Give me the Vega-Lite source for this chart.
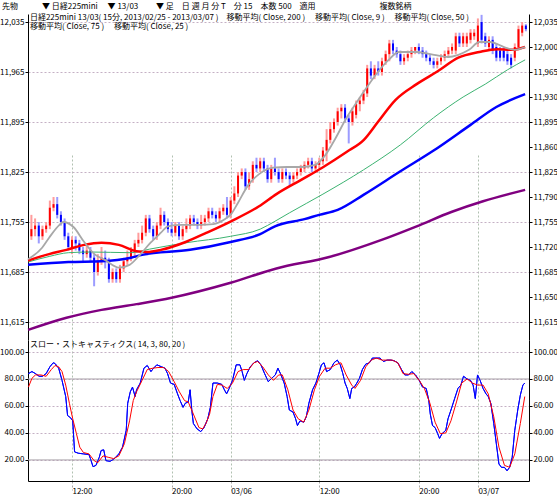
{
  "$schema": "https://vega.github.io/schema/vega-lite/v6.json",
  "width": 501,
  "height": 467,
  "autosize": {"type": "none"},
  "padding": {"left": 28, "top": 14, "right": 28, "bottom": 17},
  "background": "#ffffff",
  "title": {
    "text": "先物　　　▼ 日経225mini　 ▼ 13/03　　 ▼ 足　日 週 月 分 T　分 15　本数 500　適用　　　　　　　　複数銘柄",
    "anchor": "start", "frame": "group", "dx": -26, "offset": 3,
    "fontSize": 8, "fontWeight": "normal", "font": "Noto Sans CJK JP", "color": "#000000"
  },
  "config": {
    "view": {"stroke": null},
    "font": "Noto Sans CJK JP",
    "axis": {"labelFont": "Noto Sans CJK JP", "labelFontSize": 8, "labelColor": "#000000", "domainColor": "#000000", "tickColor": "#000000", "title": null}
  },
  "datasets": {
    "candles": [
      {"j":0,"o":11735,"h":11765,"l":11730,"c":11745},
      {"j":1,"o":11745,"h":11760,"l":11735,"c":11750},
      {"j":2,"o":11750,"h":11755,"l":11725,"c":11735},
      {"j":3,"o":11735,"h":11750,"l":11730,"c":11745},
      {"j":4,"o":11745,"h":11755,"l":11740,"c":11750},
      {"j":5,"o":11750,"h":11785,"l":11745,"c":11775},
      {"j":6,"o":11775,"h":11790,"l":11770,"c":11780},
      {"j":7,"o":11780,"h":11790,"l":11760,"c":11765},
      {"j":8,"o":11765,"h":11770,"l":11750,"c":11755},
      {"j":9,"o":11755,"h":11760,"l":11730,"c":11735},
      {"j":10,"o":11735,"h":11740,"l":11715,"c":11720},
      {"j":11,"o":11720,"h":11735,"l":11710,"c":11730},
      {"j":12,"o":11730,"h":11735,"l":11715,"c":11725},
      {"j":13,"o":11725,"h":11730,"l":11710,"c":11715},
      {"j":14,"o":11715,"h":11720,"l":11700,"c":11710},
      {"j":15,"o":11710,"h":11725,"l":11705,"c":11715},
      {"j":16,"o":11715,"h":11720,"l":11700,"c":11705},
      {"j":17,"o":11705,"h":11710,"l":11665,"c":11685},
      {"j":18,"o":11685,"h":11710,"l":11680,"c":11700},
      {"j":19,"o":11700,"h":11720,"l":11695,"c":11705},
      {"j":20,"o":11705,"h":11715,"l":11690,"c":11700},
      {"j":21,"o":11700,"h":11705,"l":11670,"c":11675},
      {"j":22,"o":11675,"h":11690,"l":11670,"c":11685},
      {"j":23,"o":11685,"h":11690,"l":11670,"c":11675},
      {"j":24,"o":11675,"h":11695,"l":11670,"c":11690},
      {"j":25,"o":11690,"h":11705,"l":11685,"c":11700},
      {"j":26,"o":11700,"h":11715,"l":11695,"c":11705},
      {"j":27,"o":11705,"h":11720,"l":11700,"c":11715},
      {"j":28,"o":11715,"h":11730,"l":11705,"c":11725},
      {"j":29,"o":11725,"h":11740,"l":11720,"c":11730},
      {"j":30,"o":11730,"h":11750,"l":11725,"c":11740},
      {"j":31,"o":11740,"h":11765,"l":11735,"c":11760},
      {"j":32,"o":11760,"h":11765,"l":11740,"c":11745},
      {"j":33,"o":11745,"h":11750,"l":11730,"c":11735},
      {"j":34,"o":11735,"h":11755,"l":11730,"c":11750},
      {"j":35,"o":11750,"h":11775,"l":11745,"c":11765},
      {"j":36,"o":11765,"h":11770,"l":11750,"c":11755},
      {"j":37,"o":11755,"h":11760,"l":11740,"c":11745},
      {"j":38,"o":11745,"h":11755,"l":11735,"c":11740},
      {"j":39,"o":11740,"h":11755,"l":11735,"c":11750},
      {"j":40,"o":11750,"h":11755,"l":11730,"c":11735},
      {"j":41,"o":11735,"h":11750,"l":11730,"c":11745},
      {"j":42,"o":11745,"h":11760,"l":11740,"c":11750},
      {"j":43,"o":11750,"h":11765,"l":11745,"c":11760},
      {"j":44,"o":11760,"h":11765,"l":11750,"c":11755},
      {"j":45,"o":11755,"h":11760,"l":11745,"c":11750},
      {"j":46,"o":11750,"h":11765,"l":11745,"c":11755},
      {"j":47,"o":11755,"h":11765,"l":11750,"c":11760},
      {"j":48,"o":11760,"h":11775,"l":11755,"c":11770},
      {"j":49,"o":11770,"h":11775,"l":11760,"c":11765},
      {"j":50,"o":11765,"h":11770,"l":11755,"c":11760},
      {"j":51,"o":11760,"h":11775,"l":11755,"c":11770},
      {"j":52,"o":11770,"h":11780,"l":11765,"c":11775},
      {"j":53,"o":11775,"h":11790,"l":11760,"c":11765},
      {"j":54,"o":11765,"h":11790,"l":11760,"c":11785},
      {"j":55,"o":11785,"h":11805,"l":11780,"c":11795},
      {"j":56,"o":11795,"h":11825,"l":11790,"c":11820},
      {"j":57,"o":11820,"h":11830,"l":11815,"c":11825},
      {"j":58,"o":11825,"h":11830,"l":11800,"c":11805},
      {"j":59,"o":11805,"h":11825,"l":11800,"c":11815},
      {"j":60,"o":11815,"h":11840,"l":11810,"c":11835},
      {"j":61,"o":11835,"h":11845,"l":11825,"c":11830},
      {"j":62,"o":11830,"h":11845,"l":11825,"c":11840},
      {"j":63,"o":11840,"h":11845,"l":11825,"c":11830},
      {"j":64,"o":11830,"h":11835,"l":11810,"c":11815},
      {"j":65,"o":11815,"h":11835,"l":11810,"c":11830},
      {"j":66,"o":11830,"h":11845,"l":11820,"c":11825},
      {"j":67,"o":11825,"h":11830,"l":11810,"c":11815},
      {"j":68,"o":11815,"h":11830,"l":11810,"c":11825},
      {"j":69,"o":11825,"h":11830,"l":11815,"c":11820},
      {"j":70,"o":11820,"h":11825,"l":11805,"c":11815},
      {"j":71,"o":11815,"h":11825,"l":11810,"c":11820},
      {"j":72,"o":11820,"h":11830,"l":11815,"c":11825},
      {"j":73,"o":11825,"h":11835,"l":11820,"c":11830},
      {"j":74,"o":11830,"h":11840,"l":11825,"c":11835},
      {"j":75,"o":11835,"h":11845,"l":11830,"c":11840},
      {"j":76,"o":11840,"h":11845,"l":11825,"c":11830},
      {"j":77,"o":11830,"h":11840,"l":11825,"c":11835},
      {"j":78,"o":11835,"h":11845,"l":11830,"c":11840},
      {"j":79,"o":11840,"h":11860,"l":11835,"c":11855},
      {"j":80,"o":11855,"h":11885,"l":11840,"c":11870},
      {"j":81,"o":11870,"h":11895,"l":11865,"c":11885},
      {"j":82,"o":11885,"h":11900,"l":11880,"c":11895},
      {"j":83,"o":11895,"h":11915,"l":11890,"c":11910},
      {"j":84,"o":11910,"h":11920,"l":11900,"c":11915},
      {"j":85,"o":11915,"h":11920,"l":11895,"c":11900},
      {"j":86,"o":11900,"h":11905,"l":11865,"c":11895},
      {"j":87,"o":11895,"h":11915,"l":11890,"c":11910},
      {"j":88,"o":11905,"h":11925,"l":11900,"c":11920},
      {"j":89,"o":11920,"h":11930,"l":11910,"c":11925},
      {"j":90,"o":11925,"h":11940,"l":11920,"c":11935},
      {"j":91,"o":11935,"h":11975,"l":11930,"c":11970},
      {"j":92,"o":11970,"h":11980,"l":11955,"c":11960},
      {"j":93,"o":11960,"h":11975,"l":11955,"c":11970},
      {"j":94,"o":11970,"h":11980,"l":11960,"c":11965},
      {"j":95,"o":11965,"h":11985,"l":11960,"c":11980},
      {"j":96,"o":11980,"h":11995,"l":11975,"c":11990},
      {"j":97,"o":11990,"h":12010,"l":11980,"c":12005},
      {"j":98,"o":12005,"h":12010,"l":11990,"c":11995},
      {"j":99,"o":11995,"h":12000,"l":11985,"c":11990},
      {"j":100,"o":11990,"h":11995,"l":11975,"c":11980},
      {"j":101,"o":11980,"h":11990,"l":11975,"c":11985},
      {"j":102,"o":11985,"h":11995,"l":11980,"c":11990},
      {"j":103,"o":11990,"h":12000,"l":11985,"c":11995},
      {"j":104,"o":11995,"h":12000,"l":11990,"c":12000},
      {"j":105,"o":12000,"h":12005,"l":11990,"c":11995},
      {"j":106,"o":11995,"h":12000,"l":11985,"c":11990},
      {"j":107,"o":11990,"h":11995,"l":11980,"c":11985},
      {"j":108,"o":11985,"h":11990,"l":11975,"c":11980},
      {"j":109,"o":11980,"h":11985,"l":11970,"c":11975},
      {"j":110,"o":11975,"h":11985,"l":11970,"c":11980},
      {"j":111,"o":11980,"h":11990,"l":11975,"c":11985},
      {"j":112,"o":11985,"h":11995,"l":11980,"c":11990},
      {"j":113,"o":11990,"h":12000,"l":11985,"c":11995},
      {"j":114,"o":11995,"h":12005,"l":11990,"c":12000},
      {"j":115,"o":11995,"h":12020,"l":11990,"c":12015},
      {"j":116,"o":12015,"h":12020,"l":12000,"c":12005},
      {"j":117,"o":12005,"h":12020,"l":12000,"c":12015},
      {"j":118,"o":12005,"h":12020,"l":12000,"c":12015},
      {"j":119,"o":12010,"h":12025,"l":12005,"c":12020},
      {"j":120,"o":12015,"h":12025,"l":12010,"c":12020},
      {"j":121,"o":12005,"h":12040,"l":12000,"c":12030},
      {"j":122,"o":12035,"h":12045,"l":12005,"c":12010},
      {"j":123,"o":12015,"h":12020,"l":12000,"c":12005},
      {"j":124,"o":12000,"h":12015,"l":11995,"c":12010},
      {"j":125,"o":12010,"h":12015,"l":11990,"c":11995},
      {"j":126,"o":12000,"h":12005,"l":11980,"c":11985},
      {"j":127,"o":11995,"h":12000,"l":11980,"c":11985},
      {"j":128,"o":11995,"h":12000,"l":11980,"c":11985},
      {"j":129,"o":11990,"h":11995,"l":11975,"c":11980},
      {"j":130,"o":11985,"h":11990,"l":11970,"c":11975},
      {"j":131,"o":11985,"h":12005,"l":11980,"c":12000},
      {"j":132,"o":12000,"h":12030,"l":11995,"c":12025},
      {"j":133,"o":12020,"h":12035,"l":12015,"c":12030},
      {"j":134,"o":12030,"h":12032,"l":12022,"c":12025}
    ],
    "ma200": [
      {"j":-0.9,"v":11604},{"j":9.5,"v":11621},{"j":19,"v":11632},{"j":28.5,"v":11640},{"j":38,"v":11649},
      {"j":54,"v":11670},{"j":66.4,"v":11690},{"j":80.7,"v":11706},{"j":94.9,"v":11730},{"j":104.4,"v":11749},
      {"j":113.8,"v":11769},{"j":122.4,"v":11784},{"j":133.8,"v":11800}
    ],
    "ma75": [
      {"j":-0.9,"v":11695},{"j":10,"v":11699},{"j":19,"v":11700},{"j":27,"v":11705},{"j":30,"v":11709},
      {"j":43,"v":11716},{"j":54,"v":11727},{"j":62,"v":11738},{"j":66,"v":11749},{"j":74,"v":11759},
      {"j":78,"v":11765},{"j":83,"v":11772},{"j":90,"v":11793},{"j":100,"v":11826},{"j":109,"v":11855},
      {"j":119,"v":11891},{"j":126,"v":11916},{"j":133.8,"v":11934}
    ],
    "ma50": [
      {"j":-0.9,"v":11699},{"j":5,"v":11707},{"j":10,"v":11712},{"j":16,"v":11713},{"j":27,"v":11712},
      {"j":32,"v":11717},{"j":42,"v":11726},{"j":54,"v":11735},{"j":62,"v":11745},{"j":66,"v":11756},
      {"j":70,"v":11768},{"j":79,"v":11794},{"j":90,"v":11828},{"j":100,"v":11863},{"j":109,"v":11901},
      {"j":117,"v":11930},{"j":123,"v":11948},{"j":129,"v":11968},{"j":133.8,"v":11982}
    ],
    "ma25": [
      {"j":-0.9,"v":11701},{"j":4.8,"v":11710},{"j":9.5,"v":11716},{"j":14.3,"v":11723},{"j":19,"v":11726},
      {"j":23.7,"v":11723},{"j":28.5,"v":11714},{"j":31.3,"v":11713},{"j":35.1,"v":11716},{"j":41.8,"v":11727},
      {"j":47.5,"v":11740},{"j":54.1,"v":11756},{"j":61.7,"v":11777},{"j":66.4,"v":11794},{"j":73.1,"v":11814},
      {"j":78.8,"v":11831},{"j":85.4,"v":11853},{"j":90.1,"v":11870},{"j":93.9,"v":11895},{"j":98.7,"v":11926},
      {"j":104.4,"v":11948},{"j":110.1,"v":11966},{"j":115.7,"v":11985},{"j":121.4,"v":11993},{"j":126.2,"v":11997},
      {"j":130,"v":11996},{"j":133.8,"v":12000}
    ],
    "ma9": [
      {"j":-0.9,"v":11703},{"j":2.9,"v":11719},{"j":4.8,"v":11733},{"j":7.6,"v":11751},{"j":8.6,"v":11755},
      {"j":11.4,"v":11748},{"j":14.3,"v":11727},{"j":17.1,"v":11710},{"j":19.9,"v":11702},{"j":23.7,"v":11691},
      {"j":26.6,"v":11695},{"j":29.4,"v":11709},{"j":32.3,"v":11726},{"j":35.1,"v":11740},{"j":37,"v":11749},
      {"j":40.8,"v":11751},{"j":45.6,"v":11751},{"j":49.3,"v":11752},{"j":52.2,"v":11758},{"j":54.1,"v":11766},
      {"j":56,"v":11782},{"j":58.8,"v":11807},{"j":61.7,"v":11822},{"j":65.5,"v":11831},{"j":69.3,"v":11832},
      {"j":73.1,"v":11832},{"j":76.9,"v":11835},{"j":79.7,"v":11849},{"j":82.5,"v":11873},{"j":85.4,"v":11901},
      {"j":88.2,"v":11923},{"j":91.1,"v":11945},{"j":93.9,"v":11965},{"j":96.8,"v":11982},{"j":99.6,"v":11993},
      {"j":104.4,"v":11993},{"j":109.1,"v":11989},{"j":112.9,"v":11986},{"j":115.7,"v":11989},{"j":118.6,"v":11996},
      {"j":121.4,"v":12007},{"j":124.3,"v":12007},{"j":128.1,"v":12000},{"j":130.9,"v":11996},{"j":133.8,"v":12000}
    ],
    "stochK": [
      {"j":-0.8,"v":84},{"j":0.15,"v":85.5},{"j":1.1,"v":84},{"j":2.1,"v":82},{"j":3,"v":82},{"j":4,"v":84},
      {"j":5,"v":89},{"j":5.9,"v":92},{"j":6.4,"v":91.5},{"j":7.4,"v":88},{"j":8.3,"v":79},{"j":9.3,"v":67},
      {"j":9.8,"v":53},{"j":10.7,"v":51},{"j":11.2,"v":49},{"j":11.7,"v":26},{"j":12.7,"v":25},{"j":14.1,"v":24.5},
      {"j":15.6,"v":24},{"j":16,"v":21},{"j":16.7,"v":15},{"j":17.5,"v":16},{"j":18.4,"v":22},{"j":18.9,"v":27},
      {"j":19.6,"v":27.5},{"j":20.2,"v":19.5},{"j":21.3,"v":19},{"j":22.3,"v":20.5},{"j":23.7,"v":24.5},{"j":24.7,"v":29.5},
      {"j":25.7,"v":42},{"j":26.1,"v":62},{"j":26.8,"v":70.5},{"j":27.4,"v":74},{"j":28.1,"v":67},{"j":28.5,"v":72},
      {"j":29.5,"v":77},{"j":30.5,"v":88},{"j":31.4,"v":90},{"j":32.4,"v":85.5},{"j":33.1,"v":88},{"j":34,"v":90.5},
      {"j":35.3,"v":89},{"j":36.2,"v":88},{"j":36.9,"v":84},{"j":37.7,"v":77},{"j":38.7,"v":76},{"j":39.6,"v":69},
      {"j":40.3,"v":64},{"j":41.1,"v":59},{"j":41.7,"v":62},{"j":42.5,"v":63},{"j":43,"v":72},{"j":43.5,"v":56},
      {"j":43.9,"v":47},{"j":44.9,"v":43},{"j":45.9,"v":41},{"j":46.8,"v":44},{"j":47.8,"v":50.5},{"j":48.5,"v":59},
      {"j":49.2,"v":77},{"j":50.4,"v":77},{"j":51.6,"v":76},{"j":52.3,"v":72},{"j":52.9,"v":69},{"j":53.6,"v":73},
      {"j":54.5,"v":79},{"j":55.5,"v":90.5},{"j":56.5,"v":90.5},{"j":57.1,"v":85.5},{"j":57.7,"v":79},{"j":58.4,"v":84},
      {"j":59.3,"v":89},{"j":60.3,"v":92},{"j":61.3,"v":93.5},{"j":62.2,"v":90.5},{"j":63.2,"v":84},{"j":64.2,"v":78},
      {"j":65.1,"v":80.5},{"j":66.1,"v":83},{"j":66.8,"v":88},{"j":67.5,"v":84},{"j":68.5,"v":77},{"j":69.3,"v":67},
      {"j":69.9,"v":57},{"j":70.9,"v":55.5},{"j":71.6,"v":50.5},{"j":72.1,"v":45.5},{"j":72.8,"v":49},{"j":73.8,"v":48},
      {"j":74.5,"v":52},{"j":75.2,"v":62},{"j":76.2,"v":72},{"j":77.1,"v":77},{"j":77.9,"v":84},{"j":78.6,"v":90.5},
      {"j":79.3,"v":92},{"j":80,"v":85.5},{"j":81,"v":87},{"j":82,"v":92},{"j":82.9,"v":94},{"j":83.7,"v":90.5},
      {"j":84.4,"v":84},{"j":85,"v":77},{"j":85.6,"v":73},{"j":86.3,"v":65.5},{"j":86.8,"v":73},{"j":87.5,"v":74},
      {"j":88.2,"v":77},{"j":88.9,"v":80.5},{"j":89.7,"v":87},{"j":90.6,"v":91},{"j":91.6,"v":92},{"j":92.4,"v":95.5},
      {"j":93.5,"v":95.5},{"j":94.5,"v":95.5},{"j":95.4,"v":93},{"j":96.4,"v":94},{"j":97.4,"v":94},{"j":98.3,"v":93.5},
      {"j":99.3,"v":92},{"j":100.3,"v":87},{"j":101.2,"v":83},{"j":102.2,"v":83},{"j":103.1,"v":85.5},{"j":104.1,"v":83},
      {"j":105.1,"v":79},{"j":106,"v":74},{"j":107,"v":73},{"j":107.7,"v":64},{"j":108.1,"v":54},{"j":108.7,"v":45.5},
      {"j":109.4,"v":44},{"j":110.1,"v":39.5},{"j":110.6,"v":36},{"j":111.3,"v":39.5},{"j":112.3,"v":42},{"j":112.9,"v":50.5},
      {"j":113.7,"v":57},{"j":114.7,"v":65.5},{"j":115.6,"v":73},{"j":116.4,"v":75.5},{"j":117.1,"v":82},{"j":118.1,"v":80},
      {"j":119,"v":79},{"j":119.7,"v":75.5},{"j":120.3,"v":65.5},{"j":120.9,"v":83},{"j":121.6,"v":79},{"j":122.4,"v":73},
      {"j":123.2,"v":69},{"j":123.8,"v":67},{"j":124.5,"v":62},{"j":125.3,"v":47},{"j":126,"v":32},{"j":126.7,"v":17},
      {"j":127.4,"v":14.5},{"j":128.2,"v":14.5},{"j":128.9,"v":12},{"j":129.6,"v":14.5},{"j":130.3,"v":22},{"j":131,"v":42},
      {"j":131.8,"v":57},{"j":132.5,"v":68},{"j":133.2,"v":75.5},{"j":133.7,"v":77}
    ],
    "stochD": [
      {"j":-0.8,"v":74},{"j":0.15,"v":80.5},{"j":1.1,"v":83},{"j":2.6,"v":83},{"j":4,"v":82},{"j":5.4,"v":87},
      {"j":6.4,"v":90},{"j":7.4,"v":89},{"j":8.3,"v":85.5},{"j":9.3,"v":75.5},{"j":10.3,"v":62},{"j":11.2,"v":50.5},
      {"j":12.2,"v":39.5},{"j":13.1,"v":29.5},{"j":14.1,"v":25.5},{"j":15.6,"v":24.5},{"j":17,"v":19.5},{"j":18,"v":18},
      {"j":19.4,"v":23},{"j":20.8,"v":22},{"j":22.3,"v":21},{"j":23.7,"v":23},{"j":25.2,"v":32},{"j":26.6,"v":49},
      {"j":27.6,"v":64},{"j":28.5,"v":70.5},{"j":30,"v":79},{"j":31.4,"v":87},{"j":32.9,"v":88},{"j":34.3,"v":88.5},
      {"j":35.8,"v":88.5},{"j":37.2,"v":85.5},{"j":38.7,"v":78},{"j":40.1,"v":70.5},{"j":41.5,"v":64},{"j":42.5,"v":63},
      {"j":43.9,"v":54},{"j":45.4,"v":44},{"j":46.4,"v":43},{"j":47.3,"v":47},{"j":48.3,"v":54},{"j":49.2,"v":67},
      {"j":50.4,"v":76},{"j":51.6,"v":75.5},{"j":53.1,"v":73},{"j":54.5,"v":77},{"j":56,"v":85.5},{"j":57.4,"v":87},
      {"j":58.9,"v":87},{"j":60.3,"v":92},{"j":61.3,"v":93},{"j":62.7,"v":89},{"j":64.2,"v":83},{"j":65.6,"v":79},
      {"j":67,"v":83},{"j":68,"v":83},{"j":69.5,"v":72},{"j":70.9,"v":57},{"j":72.3,"v":50.5},{"j":73.8,"v":48},
      {"j":75.2,"v":57},{"j":76.7,"v":72},{"j":78.1,"v":82},{"j":79.6,"v":88},{"j":81,"v":88},{"j":82.4,"v":90.5},
      {"j":83.9,"v":92},{"j":85.3,"v":83},{"j":86.8,"v":75.5},{"j":87.7,"v":73},{"j":89.2,"v":79},{"j":90.6,"v":89},
      {"j":92.1,"v":94},{"j":93.5,"v":95.5},{"j":95,"v":94},{"j":96.4,"v":94},{"j":97.8,"v":94},{"j":99.3,"v":92},
      {"j":100.7,"v":84},{"j":102.2,"v":83.5},{"j":103.6,"v":84},{"j":105.1,"v":79},{"j":106.5,"v":73},{"j":108,"v":62},
      {"j":109.4,"v":48},{"j":110.8,"v":39.5},{"j":112.3,"v":40},{"j":113.7,"v":49},{"j":115.2,"v":63},{"j":116.6,"v":77},
      {"j":118.1,"v":80},{"j":119.5,"v":77},{"j":120.9,"v":75.5},{"j":122.4,"v":75.5},{"j":123.8,"v":69},{"j":125.3,"v":52},
      {"j":126.7,"v":29.5},{"j":128.2,"v":16},{"j":129.6,"v":14.5},{"j":131,"v":24.5},{"j":132.5,"v":47},{"j":133.7,"v":67}
    ],
    "levels": [{"lvl": 80}, {"lvl": 20}],
    "mainLegend1": [{"t": "日経225mini 13/03( 15分, 2013/02/25 - 2013/03/07 )　移動平均( Close, 200 )　 移動平均( Close, 9 )　 移動平均( Close, 50 )"}],
    "mainLegend2": [{"t": "移動平均( Close, 75 )　 移動平均( Close, 25 )"}],
    "stochLegend": [{"t": "スロー・ストキャスティクス( 14, 3, 80, 20 )"}]
  },
  "layer": [
    {
      "layer": [
        {
          "data": {"name": "candles"},
          "mark": {"type": "rule", "strokeWidth": 2},
          "encoding": {
            "x": {
              "field": "j", "type": "quantitative",
              "scale": {"domain": [-0.92, 134.85], "nice": false, "zero": false},
              "axis": {
                "orient": "bottom",
                "values": [11, 38, 54, 78, 105, 121],
                "labelExpr": "datum.value == 11 ? '12:00' : datum.value == 38 ? '20:00' : datum.value == 54 ? '03/06' : datum.value == 78 ? '12:00' : datum.value == 105 ? '20:00' : '03/07'",
                "labelAlign": "left", "labelBaseline": "top", "labelPadding": -3, "labelDx": 1,
                "tickSize": 9, "tickColor": "#a8a8a8", "tickDash": [2, 2],
                "grid": true, "gridColor": "#b0c0b0", "gridDash": [2, 2],
                "domainColor": "#000000", "labelFontSize": 8, "labelFlush": false, "labelOverlap": false
              }
            },
            "y": {"field": "l", "type": "quantitative",
              "scale": {"domain": [11589.8, 12046.2], "range": [326, 0], "nice": false, "zero": false},
              "axis": {"orient": "left", "values": [11615, 11650, 11685, 11720, 11755, 11790, 11825, 11860, 11895, 11930, 11965, 12000, 12035],
                "format": ",d", "grid": true, "gridColor": "#c4b0c4", "gridDash": [2, 2], "tickSize": 3, "labelPadding": 1, "labelFontSize": 8}},
            "y2": {"field": "h"},
            "color": {"condition": {"test": "datum.c >= datum.o", "value": "#ff9c9c"}, "value": "#9c9cff"}
          }
        },
        {
          "data": {"name": "candles"},
          "mark": {"type": "rule", "strokeWidth": 2},
          "encoding": {
            "x": {"field": "j", "type": "quantitative"},
            "y": {"field": "o", "type": "quantitative"},
            "y2": {"field": "c"},
            "color": {"condition": {"test": "datum.c >= datum.o", "value": "#ff0000"}, "value": "#0000ff"}
          }
        },
        {
          "data": {"name": "ma200"},
          "mark": {"type": "line", "color": "#800080", "strokeWidth": 2.5, "interpolate": "monotone"},
          "encoding": {"x": {"field": "j", "type": "quantitative"}, "y": {"field": "v", "type": "quantitative"}}
        },
        {
          "data": {"name": "ma75"},
          "mark": {"type": "line", "color": "#0000ff", "strokeWidth": 2.5, "interpolate": "monotone"},
          "encoding": {"x": {"field": "j", "type": "quantitative"}, "y": {"field": "v", "type": "quantitative"}}
        },
        {
          "data": {"name": "ma50"},
          "mark": {"type": "line", "color": "#3cb371", "strokeWidth": 1, "interpolate": "monotone"},
          "encoding": {"x": {"field": "j", "type": "quantitative"}, "y": {"field": "v", "type": "quantitative"}}
        },
        {
          "data": {"name": "ma25"},
          "mark": {"type": "line", "color": "#ff0000", "strokeWidth": 2.5, "interpolate": "monotone"},
          "encoding": {"x": {"field": "j", "type": "quantitative"}, "y": {"field": "v", "type": "quantitative"}}
        },
        {
          "data": {"name": "ma9"},
          "mark": {"type": "line", "color": "#a8a8a8", "strokeWidth": 1.8, "interpolate": "monotone"},
          "encoding": {"x": {"field": "j", "type": "quantitative"}, "y": {"field": "v", "type": "quantitative"}}
        },
        {
          "data": {"name": "mainLegend1"},
          "mark": {"type": "text", "align": "left", "baseline": "middle", "fontSize": 8, "color": "#000000", "font": "Noto Sans CJK JP"},
          "encoding": {"x": {"datum": -0.4, "type": "quantitative"}, "y": {"datum": 12041.3, "type": "quantitative"}, "text": {"field": "t", "type": "nominal"}}
        },
        {
          "data": {"name": "mainLegend2"},
          "mark": {"type": "text", "align": "left", "baseline": "middle", "fontSize": 8, "color": "#000000", "font": "Noto Sans CJK JP"},
          "encoding": {"x": {"datum": -0.4, "type": "quantitative"}, "y": {"datum": 12028, "type": "quantitative"}, "text": {"field": "t", "type": "nominal"}}
        }
      ]
    },
    {
      "data": {"name": "candles"},
      "mark": {"type": "point", "opacity": 0},
      "encoding": {
        "x": {"field": "j", "type": "quantitative"},
        "y": {"field": "c", "type": "quantitative",
          "scale": {"domain": [11589.8, 12046.2], "range": [326, 0], "nice": false, "zero": false},
          "axis": {"orient": "right", "values": [11615, 11650, 11685, 11720, 11755, 11790, 11825, 11860, 11895, 11930, 11965, 12000, 12035],
            "format": ",d", "grid": false, "tickSize": 3, "labelPadding": 1, "labelFontSize": 8}}
      }
    },
    {
      "layer": [
        {
          "data": {"name": "stochK"},
          "mark": {"type": "line", "color": "#0000ff", "strokeWidth": 1},
          "encoding": {
            "x": {"field": "j", "type": "quantitative"},
            "y": {"field": "v", "type": "quantitative",
              "scale": {"domain": [4.4, 108.9], "range": [467, 326], "nice": false, "zero": false},
              "axis": {"orient": "left", "values": [20, 40, 60, 80, 100], "format": ".2f", "grid": true, "gridColor": "#c4b0c4", "gridDash": [2, 2], "tickSize": 3, "labelPadding": 1, "labelFontSize": 8}}
          }
        },
        {
          "data": {"name": "levels"},
          "mark": {"type": "rule", "color": "#a8a0a8", "strokeWidth": 1},
          "encoding": {"y": {"field": "lvl", "type": "quantitative"}}
        },
        {
          "data": {"name": "stochK"},
          "mark": {"type": "line", "color": "#0000ff", "strokeWidth": 1},
          "encoding": {"x": {"field": "j", "type": "quantitative"}, "y": {"field": "v", "type": "quantitative"}}
        },
        {
          "data": {"name": "stochD"},
          "mark": {"type": "line", "color": "#ff0000", "strokeWidth": 1},
          "encoding": {"x": {"field": "j", "type": "quantitative"}, "y": {"field": "v", "type": "quantitative"}}
        },
        {
          "data": {"name": "stochLegend"},
          "mark": {"type": "text", "align": "left", "baseline": "middle", "fontSize": 8, "color": "#000000", "font": "Noto Sans CJK JP"},
          "encoding": {"x": {"datum": -0.4, "type": "quantitative"}, "y": {"datum": 105.2, "type": "quantitative"}, "text": {"field": "t", "type": "nominal"}}
        }
      ]
    },
    {
      "data": {"name": "stochK"},
      "mark": {"type": "point", "opacity": 0},
      "encoding": {
        "x": {"field": "j", "type": "quantitative"},
        "y": {"field": "v", "type": "quantitative",
          "scale": {"domain": [4.4, 108.9], "range": [467, 326], "nice": false, "zero": false},
          "axis": {"orient": "right", "values": [20, 40, 60, 80, 100], "format": ".2f", "grid": false, "tickSize": 3, "labelPadding": 1, "labelFontSize": 8}}
      }
    }
  ],
  "resolve": {"scale": {"y": "independent"}, "axis": {"y": "independent"}}
}
